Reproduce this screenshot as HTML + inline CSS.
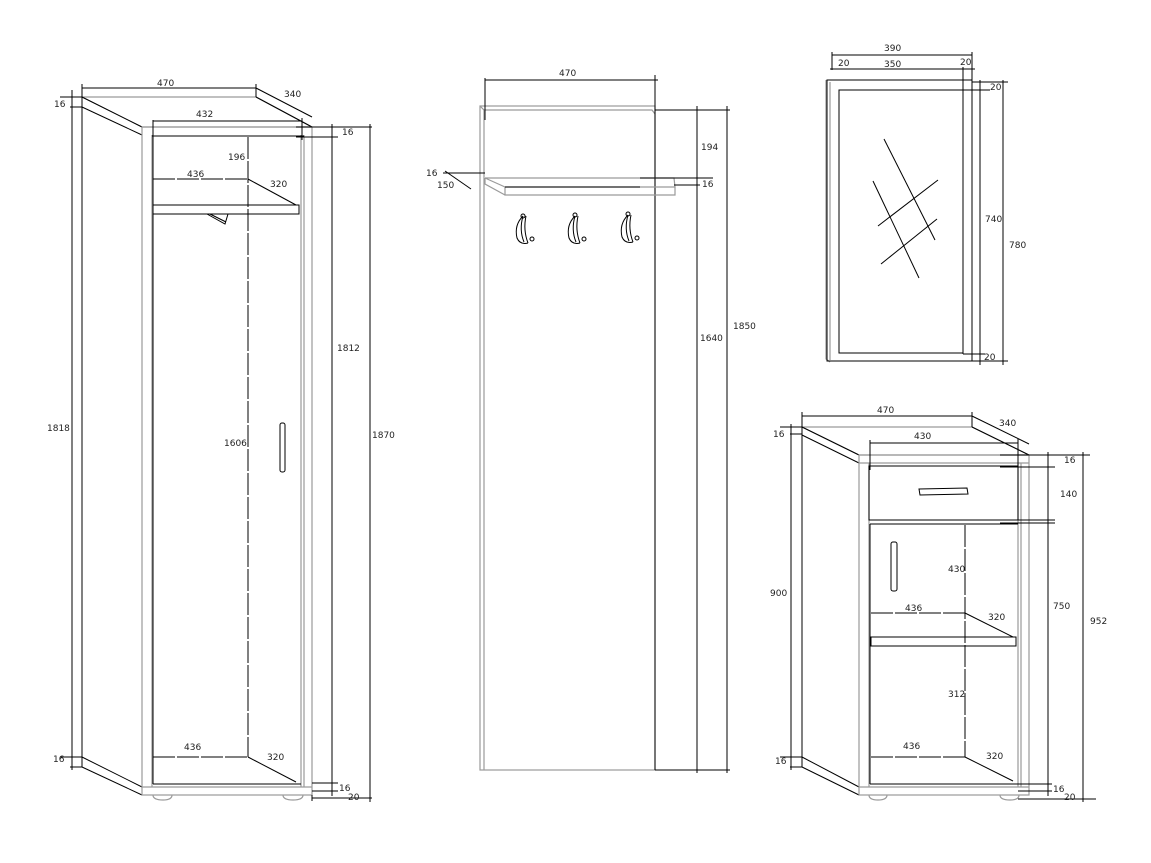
<!DOCTYPE html>
<html><head><meta charset="utf-8"><style>
html,body{margin:0;padding:0;background:#fff;}
svg{display:block}
text{font-family:"DejaVu Sans","Liberation Sans",sans-serif;font-size:9px;fill:#222}
.g{stroke:#9a9a9a;stroke-width:1.2;fill:none}
.k{stroke:#000;stroke-width:1;fill:none}
.d{stroke:#000;stroke-width:1;fill:none;stroke-dasharray:22 2}
</style></head><body>
<svg width="1151" height="863" viewBox="0 0 1151 863" xmlns="http://www.w3.org/2000/svg">
<!-- ================= WARDROBE ================= -->
<g>
<path class="g" d="M82 97 L256 97 L312 127 L142 127 Z"/>
<path class="k" d="M82 97 L142 127 M82 107 L142 135 M256 97 L312 127"/>
<line class="k" x1="82" y1="97" x2="82" y2="767"/>
<path class="k" d="M82 757 L142 787 M82 767 L142 795"/>
<rect class="g" x="142" y="127" width="170" height="668"/>
<line class="g" x1="152" y1="135" x2="152" y2="787"/>
<line class="g" x1="301" y1="135" x2="301" y2="787"/>
<line class="g" x1="304" y1="135" x2="304" y2="787"/>
<line class="g" x1="142" y1="787" x2="312" y2="787"/>
<line class="k" x1="152" y1="136" x2="304" y2="136"/>
<line class="k" x1="153" y1="137" x2="153" y2="784"/>
<line class="k" x1="153" y1="784" x2="301" y2="784"/>
<line class="d" x1="248" y1="137" x2="248" y2="757"/>
<line class="d" x1="153" y1="179" x2="248" y2="179"/>
<line class="k" x1="248" y1="179" x2="296" y2="205"/>
<rect class="k" x="153" y="205" width="146" height="9"/>
<path class="k" d="M207 214 L225 224 L228 214 M210 214 L226 222"/>
<line class="d" x1="153" y1="757" x2="248" y2="757"/>
<line class="k" x1="248" y1="757" x2="296" y2="782"/>
<path class="g" d="M153 795 Q153 800 163 800 Q172 800 172 795 M283 795 Q283 800 293 800 Q303 800 303 795"/>
<rect class="k" x="280" y="423" width="5" height="49" rx="2"/>
<line class="k" x1="82" y1="84" x2="82" y2="97"/><line class="k" x1="82" y1="88" x2="256" y2="88"/><line class="k" x1="256" y1="84" x2="256" y2="97"/>
<text x="157" y="86">470</text>
<line class="k" x1="256" y1="88" x2="312" y2="117"/><text x="284" y="97">340</text>
<line class="k" x1="153" y1="120" x2="153" y2="140"/><line class="k" x1="153" y1="121" x2="302" y2="121"/><line class="k" x1="302" y1="118" x2="302" y2="140"/>
<text x="196" y="117">432</text>
<line class="k" x1="60" y1="97" x2="82" y2="97"/><line class="k" x1="70" y1="107" x2="82" y2="107"/><text x="54" y="107">16</text>
<line class="k" x1="72" y1="90" x2="72" y2="770"/><text x="47" y="431">1818</text>
<line class="k" x1="60" y1="757" x2="82" y2="757"/><line class="k" x1="70" y1="767" x2="82" y2="767"/><text x="53" y="762">16</text>
<line class="k" x1="296" y1="127" x2="338" y2="127"/><line class="k" x1="296" y1="137" x2="338" y2="137"/><text x="342" y="135">16</text>
<line class="k" x1="332" y1="124" x2="332" y2="796"/><text x="337" y="351">1812</text>
<line class="k" x1="370" y1="124" x2="370" y2="802"/><line class="k" x1="312" y1="127" x2="372" y2="127"/><text x="372" y="438">1870</text>
<line class="k" x1="312" y1="783" x2="338" y2="783"/><line class="k" x1="312" y1="791" x2="338" y2="791"/><text x="339" y="791">16</text>
<line class="k" x1="312" y1="798" x2="372" y2="798"/><text x="348" y="800">20</text>
<line class="k" x1="312" y1="795" x2="312" y2="801"/>
<text x="228" y="160">196</text><text x="187" y="177">436</text><text x="270" y="187">320</text>
<text x="224" y="446">1606</text>
<text x="184" y="750">436</text><text x="267" y="760">320</text>
</g>
<!-- ================= COAT RACK ================= -->
<g>
<rect class="g" x="480" y="106" width="175" height="664"/>
<line class="g" x1="484" y1="110" x2="484" y2="770"/>
<line class="k" x1="655" y1="114" x2="655" y2="770"/>
<path class="g" d="M480 106 L484 110 L652 110 L655 114"/>
<line class="k" x1="485" y1="78" x2="485" y2="120"/><line class="k" x1="655" y1="75" x2="655" y2="115"/>
<line class="k" x1="485" y1="80" x2="658" y2="80"/><text x="559" y="76">470</text>
<path class="g" d="M485 178 L674 178 L675 187 L505 187 L505 195 L675 195 L675 187 M485 178 L505 187 M485 178 L485 184 L505 195"/>
<path class="k" d="M505 187 L640 187"/>
<line class="k" x1="443" y1="173" x2="485" y2="173"/><text x="426" y="176">16</text>
<line class="k" x1="445" y1="171" x2="471" y2="189"/><text x="437" y="188">150</text>
<line class="k" x1="640" y1="178" x2="713" y2="178"/><line class="k" x1="674" y1="185" x2="700" y2="185"/><text x="702" y="187">16</text>
<line class="k" x1="655" y1="110" x2="730" y2="110"/>
<line class="k" x1="697" y1="106" x2="697" y2="773"/><text x="701" y="150">194</text><text x="700" y="341">1640</text>
<line class="k" x1="727" y1="106" x2="727" y2="773"/><text x="733" y="329">1850</text>
<line class="k" x1="655" y1="770" x2="730" y2="770"/>
<g class="k">
<path d="M523 216 Q514 225 517 238 Q520 245 528 243 M523 216 Q519 230 524 242 M526 216 Q523 230 528 243" />
<circle cx="523" cy="216" r="2"/><circle cx="532" cy="239" r="2"/>
<path d="M575 216 Q566 225 569 238 Q572 245 580 243 M575 216 Q571 230 576 242 M578 216 Q575 230 580 243" />
<circle cx="575" cy="215" r="2"/><circle cx="584" cy="239" r="2"/>
<path d="M628 215 Q619 224 622 237 Q625 244 633 242 M628 215 Q624 229 629 241 M631 215 Q628 229 633 242" />
<circle cx="628" cy="214" r="2"/><circle cx="637" cy="238" r="2"/>
</g>
</g>
<!-- ================= MIRROR ================= -->
<g>
<path class="g" d="M826 80 L826 359 L830 362 M830 82 L830 360"/>
<rect class="k" x="827" y="80" width="145" height="281"/>
<rect class="k" x="839" y="90" width="124" height="263"/>
<line class="k" x1="832" y1="52" x2="832" y2="70"/><line class="k" x1="972" y1="52" x2="972" y2="90"/>
<line class="k" x1="832" y1="55" x2="972" y2="55"/><text x="884" y="51">390</text>
<line class="k" x1="830" y1="69" x2="975" y2="69"/>
<text x="838" y="66">20</text><text x="884" y="67">350</text><text x="960" y="65">20</text>
<line class="k" x1="963" y1="67" x2="963" y2="354"/>
<line class="k" x1="972" y1="82" x2="1008" y2="82"/><line class="k" x1="840" y1="90" x2="990" y2="90"/><text x="990" y="90">20</text>
<line class="k" x1="980" y1="80" x2="980" y2="365"/><text x="985" y="222">740</text>
<line class="k" x1="1003" y1="80" x2="1003" y2="365"/><text x="1009" y="248">780</text>
<line class="k" x1="963" y1="354" x2="985" y2="354"/><text x="984" y="360">20</text>
<line class="k" x1="970" y1="361" x2="1008" y2="361"/>
<line class="k" x1="884" y1="139" x2="935" y2="240"/>
<line class="k" x1="873" y1="181" x2="919" y2="278"/>
<line class="k" x1="878" y1="226" x2="938" y2="180"/>
<line class="k" x1="881" y1="264" x2="937" y2="219"/>
</g>
<!-- ================= CABINET ================= -->
<g>
<path class="g" d="M802 427 L972 427 L1029 455 L859 455 Z"/>
<path class="k" d="M802 427 L859 455 M802 435 L859 463 M972 427 L1029 455"/>
<line class="k" x1="802" y1="427" x2="802" y2="767"/>
<path class="k" d="M802 757 L859 787 M802 767 L859 795"/>
<rect class="g" x="859" y="455" width="170" height="340"/>
<line class="g" x1="859" y1="463" x2="1029" y2="463"/>
<line class="g" x1="869" y1="463" x2="869" y2="787"/>
<line class="g" x1="1018" y1="463" x2="1018" y2="787"/>
<line class="g" x1="1021" y1="463" x2="1021" y2="787"/>
<line class="g" x1="859" y1="787" x2="1029" y2="787"/>
<rect class="k" x="869" y="466" width="149" height="54"/>
<path class="k" d="M919 489 L967 488 L968 494 L920 495 Z"/>
<line class="k" x1="870" y1="524" x2="1018" y2="524"/>
<line class="k" x1="870" y1="524" x2="870" y2="784"/>
<line class="k" x1="870" y1="784" x2="1018" y2="784"/>
<line class="d" x1="965" y1="525" x2="965" y2="757"/>
<line class="d" x1="871" y1="613" x2="965" y2="613"/>
<line class="k" x1="965" y1="613" x2="1013" y2="637"/>
<rect class="k" x="871" y="637" width="145" height="9"/>
<line class="d" x1="871" y1="757" x2="965" y2="757"/>
<line class="k" x1="965" y1="757" x2="1013" y2="781"/>
<rect class="k" x="891" y="542" width="6" height="49" rx="2"/>
<path class="g" d="M869 795 Q869 800 878 800 Q887 800 887 795 M1000 795 Q1000 800 1010 800 Q1019 800 1019 795"/>
<line class="k" x1="802" y1="412" x2="802" y2="427"/><line class="k" x1="972" y1="412" x2="972" y2="427"/>
<line class="k" x1="802" y1="416" x2="972" y2="416"/><text x="877" y="413">470</text>
<line class="k" x1="972" y1="416" x2="1029" y2="444"/><text x="999" y="426">340</text>
<line class="k" x1="870" y1="440" x2="870" y2="470"/><line class="k" x1="1018" y1="439" x2="1018" y2="470"/>
<line class="k" x1="870" y1="443" x2="1018" y2="443"/><text x="914" y="439">430</text>
<line class="k" x1="780" y1="427" x2="802" y2="427"/><line class="k" x1="790" y1="434" x2="802" y2="434"/><text x="773" y="437">16</text>
<line class="k" x1="791" y1="424" x2="791" y2="770"/><text x="770" y="596">900</text>
<line class="k" x1="780" y1="757" x2="802" y2="757"/><line class="k" x1="790" y1="767" x2="802" y2="767"/><text x="775" y="764">16</text>
<line class="k" x1="1000" y1="455" x2="1055" y2="455"/><line class="k" x1="1000" y1="467" x2="1055" y2="467"/><text x="1064" y="463">16</text>
<line class="k" x1="1029" y1="455" x2="1090" y2="455"/>
<line class="k" x1="1000" y1="520" x2="1055" y2="520"/><line class="k" x1="1000" y1="523" x2="1055" y2="523"/>
<text x="1060" y="497">140</text>
<line class="k" x1="1048" y1="452" x2="1048" y2="796"/><text x="1053" y="609">750</text>
<line class="k" x1="1083" y1="452" x2="1083" y2="802"/><text x="1090" y="624">952</text>
<line class="k" x1="1018" y1="784" x2="1052" y2="784"/><line class="k" x1="1018" y1="791" x2="1052" y2="791"/><text x="1053" y="792">16</text>
<line class="k" x1="1018" y1="799" x2="1096" y2="799"/><text x="1064" y="800">20</text>
<text x="948" y="572">430</text><text x="905" y="611">436</text><text x="988" y="620">320</text>
<text x="948" y="697">312</text><text x="903" y="749">436</text><text x="986" y="759">320</text>
</g>
</svg>
</body></html>
